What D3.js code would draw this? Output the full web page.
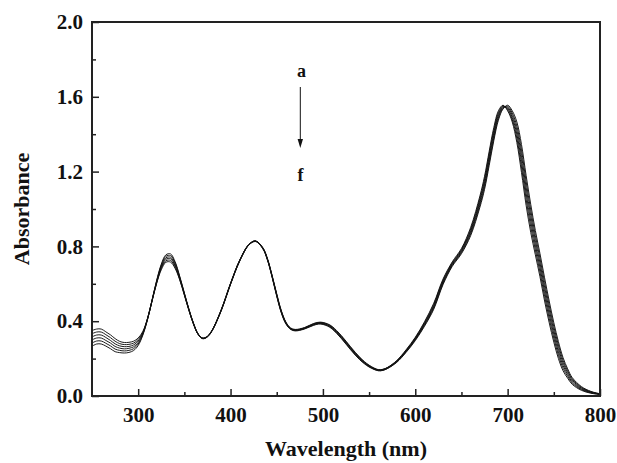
<!DOCTYPE html>
<html>
<head>
<meta charset="utf-8">
<script src="https://cdn.jsdelivr.net/npm/d3@7"></script>
<style>
  html, body { margin: 0; padding: 0; background: #fff; }
  svg { display: block; }
  text { font-family: "Liberation Serif", "DejaVu Serif", serif; font-weight: bold; fill: #111; }
</style>
</head>
<body>
<svg id="chart" width="617" height="463"></svg>
<script>
// ---- data ----
const wavelengths = [250,255,260,265,270,275,280,285,290,295,300,305,310,315,320,325,330,335,340,345,350,355,360,365,370,375,380,390,400,410,420,427,435,440,445,450,455,460,465,470,480,490,497,505,510,520,530,540,550,560,565,570,580,590,600,610,620,630,640,650,660,670,675,680,685,690,695,700,705,710,715,720,725,730,735,740,745,750,755,760,765,770,780,790,800];

const seriesA = [.350,.358,.358,.343,.327,.307,.292,.286,.287,.293,.310,.345,.414,.513,.618,.705,.755,.760,.718,.640,.551,.464,.388,.332,.310,.320,.352,.463,.603,.728,.812,.830,.793,.734,.645,.546,.456,.395,.364,.356,.366,.388,.395,.386,.372,.323,.263,.207,.165,.141,.143,.153,.190,.247,.314,.397,.496,.625,.717,.789,.902,1.070,1.175,1.308,1.435,1.525,1.555,1.525,1.465,1.355,1.195,1.020,.875,.755,.638,.508,.392,.288,.200,.135,.095,.062,.030,.015,.008];
const seriesB = [.333,.342,.342,.328,.312,.293,.280,.275,.276,.283,.302,.341,.412,.512,.615,.699,.747,.751,.711,.636,.549,.462,.387,.331,.309,.319,.351,.462,.602,.727,.811,.829,.792,.732,.643,.544,.454,.393,.362,.354,.364,.386,.393,.384,.369,.320,.260,.204,.163,.140,.142,.152,.188,.244,.310,.392,.490,.619,.712,.783,.893,1.058,1.161,1.293,1.421,1.515,1.551,1.531,1.477,1.377,1.225,1.052,.905,.781,.663,.533,.415,.309,.218,.149,.105,.069,.034,.017,.009];
const seriesC = [.316,.326,.326,.313,.297,.279,.268,.264,.265,.273,.294,.337,.411,.511,.612,.693,.739,.742,.704,.632,.546,.461,.386,.330,.308,.318,.350,.461,.601,.726,.810,.828,.791,.731,.641,.541,.451,.391,.361,.353,.363,.384,.391,.381,.366,.317,.257,.201,.161,.139,.141,.151,.186,.241,.307,.387,.483,.613,.707,.778,.884,1.046,1.147,1.278,1.407,1.505,1.547,1.537,1.489,1.399,1.255,1.084,.935,.807,.688,.558,.438,.330,.236,.163,.115,.076,.038,.019,.010];
const seriesD = [.300,.310,.310,.297,.283,.265,.256,.252,.255,.263,.286,.333,.409,.509,.608,.687,.731,.734,.696,.628,.544,.459,.384,.330,.308,.318,.350,.459,.599,.724,.810,.828,.789,.729,.639,.539,.449,.389,.359,.351,.361,.382,.389,.379,.364,.313,.253,.199,.159,.137,.139,.149,.184,.239,.303,.383,.477,.607,.703,.772,.876,1.034,1.133,1.262,1.393,1.495,1.543,1.543,1.501,1.421,1.285,1.116,.965,.833,.712,.582,.462,.350,.254,.177,.125,.084,.042,.021,.010];
const seriesE = [.283,.294,.294,.282,.268,.251,.244,.241,.244,.253,.278,.329,.408,.508,.605,.681,.723,.725,.689,.624,.541,.458,.383,.329,.307,.317,.349,.458,.598,.723,.809,.827,.788,.728,.637,.536,.446,.387,.358,.350,.360,.380,.387,.376,.361,.310,.250,.196,.157,.136,.138,.148,.182,.236,.300,.378,.470,.601,.698,.767,.867,1.022,1.119,1.247,1.379,1.485,1.539,1.549,1.513,1.443,1.315,1.148,.995,.859,.737,.607,.485,.371,.272,.191,.135,.091,.046,.023,.011];
const seriesF = [.266,.278,.278,.267,.253,.237,.232,.230,.233,.243,.270,.325,.406,.507,.602,.675,.715,.716,.682,.620,.539,.456,.382,.328,.306,.316,.348,.457,.597,.722,.808,.826,.787,.726,.635,.534,.444,.385,.356,.348,.358,.378,.385,.374,.358,.307,.247,.193,.155,.135,.137,.147,.180,.233,.296,.373,.464,.595,.693,.761,.858,1.010,1.105,1.232,1.365,1.475,1.535,1.555,1.525,1.465,1.345,1.180,1.025,.885,.762,.632,.508,.392,.290,.205,.145,.098,.050,.025,.012];

const series = [seriesA, seriesB, seriesC, seriesD, seriesE, seriesF];

const xMajorTicks = [300, 400, 500, 600, 700, 800];
const xMinorTicks = [350, 450, 550, 650, 750];
const yMajorTicks = [0.0, 0.4, 0.8, 1.2, 1.6, 2.0];
const yMinorTicks = [0.2, 0.6, 1.0, 1.4, 1.8];
const xTitle = "Wavelength (nm)";
const yTitle = "Absorbance";
const labelStart = "a";
const labelEnd = "f";

// ---- layout ----
const svg = d3.select("#chart");
const L = 92, R = 600, T = 22, B = 396;
const x = d3.scaleLinear().domain([250, 800]).range([L, R]);
const y = d3.scaleLinear().domain([0, 2.0]).range([B, T]);

// curves
const line = d3.line()
  .x((d, i) => x(wavelengths[i]))
  .y(d => y(d))
  .curve(d3.curveCatmullRom.alpha(0.5));

const plot = svg.append("g");
plot.append("defs").append("clipPath").attr("id", "clip")
  .append("rect").attr("x", L).attr("y", T).attr("width", R - L).attr("height", B - T);

plot.append("g").attr("clip-path", "url(#clip)")
  .selectAll("path").data(series).join("path")
  .attr("d", line)
  .attr("fill", "none")
  .attr("stroke", "#111")
  .attr("stroke-width", 0.95);

// axes (inward ticks)
const fmt = d3.format(".1f");
const gx = svg.append("g").attr("transform", `translate(0,${B})`)
  .call(d3.axisBottom(x).tickValues(xMajorTicks).tickSize(-7).tickPadding(11).tickFormat(d3.format("d")));
const gxm = svg.append("g").attr("transform", `translate(0,${B})`)
  .call(d3.axisBottom(x).tickValues(xMinorTicks).tickSize(-4).tickFormat(""));
const gy = svg.append("g").attr("transform", `translate(${L},0)`)
  .call(d3.axisLeft(y).tickValues(yMajorTicks).tickSize(-7).tickPadding(9).tickFormat(fmt));
const gym = svg.append("g").attr("transform", `translate(${L},0)`)
  .call(d3.axisLeft(y).tickValues(yMinorTicks).tickSize(-4).tickFormat(""));

[gx, gxm, gy, gym].forEach(g => {
  g.select(".domain").remove();
  g.selectAll(".tick line").attr("stroke", "#222").attr("stroke-width", 1.5);
  g.selectAll(".tick text")
    .style("font-family", '"Liberation Serif", serif')
    .style("font-weight", "bold")
    .style("font-size", "21px")
    .attr("fill", "#111");
});

// frame
svg.append("rect")
  .attr("x", L).attr("y", T).attr("width", R - L).attr("height", B - T)
  .attr("fill", "none").attr("stroke", "#222").attr("stroke-width", 2);

// titles
svg.append("text")
  .attr("x", 346).attr("y", 456)
  .attr("text-anchor", "middle")
  .style("font-size", "22px")
  .text(xTitle);

svg.append("text")
  .attr("transform", `translate(29,${(T + B) / 2}) rotate(-90)`)
  .attr("text-anchor", "middle")
  .style("font-size", "22px")
  .text(yTitle);

// annotation a -> f
svg.append("text").attr("x", 301.5).attr("y", 77).attr("text-anchor", "middle")
  .style("font-size", "18px").text(labelStart);
svg.append("text").attr("x", 300.5).attr("y", 181).attr("text-anchor", "middle")
  .style("font-size", "18px").text(labelEnd);
svg.append("line").attr("x1", 300.3).attr("x2", 300.3).attr("y1", 87).attr("y2", 142)
  .attr("stroke", "#111").attr("stroke-width", 1);
svg.append("path").attr("d", "M297.6,139 L303,139 L300.3,148 Z").attr("fill", "#111");
</script>
</body>
</html>
